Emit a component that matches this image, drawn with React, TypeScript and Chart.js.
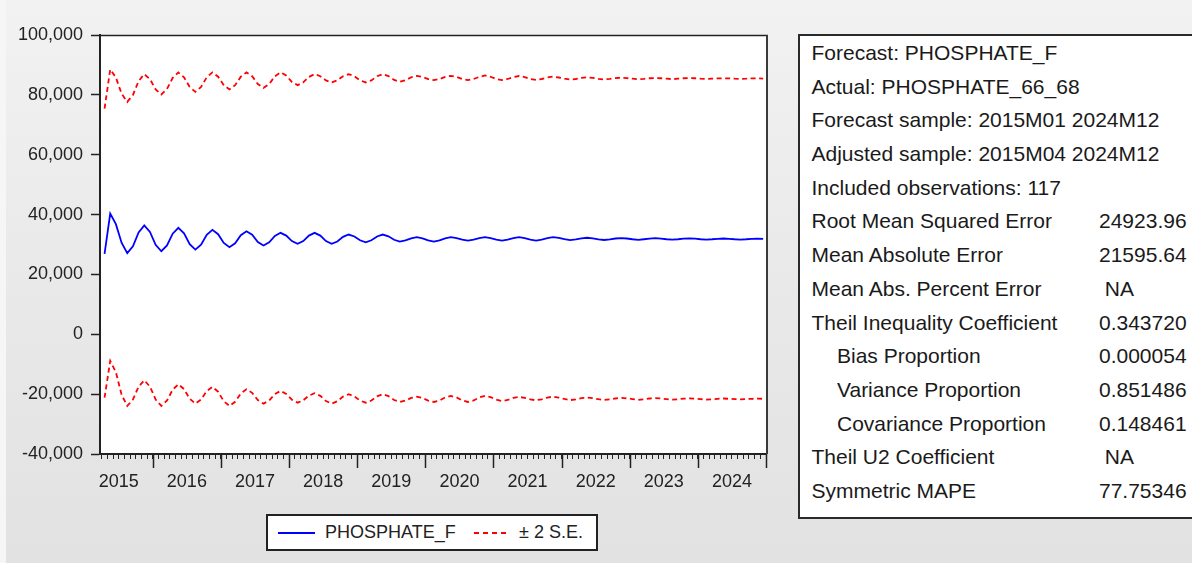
import React, { useEffect, useRef } from 'react';
import { Chart, registerables } from 'chart.js';

Chart.register(...registerables);

// ---------- data ----------
const START_YEAR = 2015;
const START_MONTH = 4; // adjusted sample starts 2015M04
const N_OBS = 117;

const PERIODS: string[] = [];
for (let i = 0; i < N_OBS; i++) {
  const m = START_MONTH - 1 + i;
  PERIODS.push(`${START_YEAR + Math.floor(m / 12)}M${String((m % 12) + 1).padStart(2, '0')}`);
}

const YEAR_LABELS = ['2015', '2016', '2017', '2018', '2019', '2020', '2021', '2022', '2023', '2024'];
const Y_TICKS = [-40000, -20000, 0, 20000, 40000, 60000, 80000, 100000];

const FORECAST = [
  26900, 40300, 36800, 30600, 27100, 29400, 34000, 36350, 34200, 29900, 27750, 29700,
  33600, 35580, 33760, 30130, 28310, 29960, 33260, 34910, 33450, 30540, 29080, 30420,
  33100, 34440, 33240, 30850, 29650, 30710, 32840, 33900, 32980, 31140, 30220, 31140,
  32980, 33900, 32980, 31140, 30220, 31000, 32550, 33330, 32690, 31400, 30750, 31400,
  32690, 33330, 32750, 31575, 30990, 31350, 32070, 32430, 32070, 31350, 30990, 31350,
  32070, 32430, 32150, 31600, 31320, 31600, 32150, 32430, 32150, 31600, 31320, 31600,
  32150, 32430, 32150, 31600, 31320, 31600, 32150, 32430, 32250, 31800, 31450, 31700,
  32050, 32250, 32050, 31700, 31500, 31700, 32000, 32150, 32000, 31750, 31550, 31750,
  31950, 32100, 31950, 31750, 31600, 31750, 31950, 32050, 31950, 31750, 31650, 31750,
  31900, 32000, 31900, 31750, 31650, 31750, 31900, 31950, 31900,
];

const UPPER = [
  75400, 88500, 85800, 80400, 77650, 79970, 84610, 86930, 85230, 81830, 80130, 81970,
  85660, 87500, 85880, 82630, 81000, 82630, 85880, 87500, 86080, 83230, 81810, 83230,
  86080, 87500, 86210, 83630, 82340, 83630, 86210, 87500, 86440, 84310, 83250, 84170,
  86010, 86930, 86235, 84845, 84150, 84845, 86235, 86930, 86235, 84845, 84150, 84845,
  86235, 86930, 86285, 84995, 84350, 84850, 85860, 86360, 86000, 85280, 84920, 85280,
  86000, 86360, 86000, 85280, 84920, 85280, 86000, 86500, 86050, 85300, 84950, 85300,
  85950, 86300, 85950, 85300, 85000, 85300, 85800, 86100, 85800, 85400, 85100, 85300,
  85650, 85850, 85650, 85350, 85150, 85350, 85600, 85750, 85600, 85400, 85200, 85350,
  85550, 85650, 85550, 85400, 85250, 85400, 85550, 85600, 85550, 85400, 85300, 85400,
  85500, 85550, 85500, 85400, 85350, 85400, 85500, 85500, 85450,
];

const LOWER = [
  -21200, -8900, -12660, -20190, -23950, -21800, -17490, -15340, -17490, -21800, -23950, -22130,
  -18500, -16680, -18300, -21550, -23180, -21780, -18990, -17590, -19180, -22360, -23950, -22550,
  -19760, -18360, -19570, -21980, -23180, -22120, -19990, -18930, -19910, -21870, -22850, -22060,
  -20490, -19700, -20570, -22310, -23180, -22390, -20820, -20030, -20735, -22145, -22850, -22145,
  -20735, -20030, -20675, -21965, -22610, -22170, -21280, -20840, -21280, -22170, -22610, -22110,
  -21100, -20600, -21100, -22110, -22610, -22110, -21100, -20600, -21020, -21860, -22280, -21950,
  -21280, -20940, -21220, -21760, -22040, -21740, -21140, -20840, -21150, -21600, -22000, -21750,
  -21350, -21150, -21350, -21700, -21950, -21750, -21450, -21250, -21400, -21650, -21900, -21700,
  -21450, -21350, -21450, -21650, -21850, -21700, -21500, -21400, -21500, -21650, -21800, -21700,
  -21550, -21450, -21550, -21650, -21750, -21650, -21550, -21500, -21550,
];

const STAT_LABELS = [
  'Forecast: PHOSPHATE_F',
  'Actual: PHOSPHATE_66_68',
  'Forecast sample: 2015M01 2024M12',
  'Adjusted sample: 2015M04 2024M12',
  'Included observations: 117',
  'Root Mean Squared Error',
  'Mean Absolute Error',
  'Mean Abs. Percent Error',
  'Theil Inequality Coefficient',
  'Bias Proportion',
  'Variance Proportion',
  'Covariance Proportion',
  'Theil U2 Coefficient',
  'Symmetric MAPE',
];
const STAT_VALUES = ['', '', '', '', '', '24923.96', '21595.64', ' NA', '0.343720', '0.000054', '0.851486', '0.148461', ' NA', '77.75346'];
const STAT_INDENT = [false, false, false, false, false, false, false, false, false, true, true, true, false, false];

const SERIES_NAME = 'PHOSPHATE_F';
const BAND_NAME = '± 2 S.E.';

// ---------- derived tick positions (month boundaries) ----------
const BOUNDARIES: number[] = [];
for (let i = 0; i <= N_OBS; i++) BOUNDARIES.push(i);
const YEAR_LABEL_AT: Record<number, string> = {};
const MAJOR_TICKS: number[] = [];
PERIODS.forEach((p, i) => {
  if (p.endsWith('M07')) {
    const y = p.slice(0, 4);
    if (YEAR_LABELS.includes(y)) YEAR_LABEL_AT[i] = y;
  }
  if (p.endsWith('M01')) MAJOR_TICKS.push(i);
});
MAJOR_TICKS.push(N_OBS);

const FONT = '"Liberation Sans", Arial, Helvetica, sans-serif';
const INK = '#222222';

export default function App() {
  const canvasRef = useRef<HTMLCanvasElement | null>(null);

  useEffect(() => {
    document.body.style.margin = '0';
    const canvas = canvasRef.current;
    if (!canvas) return;

    const framePlugin = {
      id: 'framePlugin',
      beforeDraw(chart: any) {
        const { ctx, chartArea } = chart;
        ctx.save();
        ctx.fillStyle = '#ffffff';
        ctx.fillRect(chartArea.left, chartArea.top, chartArea.right - chartArea.left, chartArea.bottom - chartArea.top);
        ctx.restore();
      },
      afterDraw(chart: any) {
        const { ctx, chartArea, scales } = chart;
        const { left, top, right, bottom } = chartArea;
        ctx.save();
        ctx.strokeStyle = INK;
        ctx.lineWidth = 1.5;
        ctx.beginPath();
        ctx.moveTo(left, top + 0.5);
        ctx.lineTo(right + 2, top + 0.5);
        ctx.stroke();
        ctx.strokeStyle = '#3a3a3a';
        ctx.lineWidth = 2;
        ctx.beginPath();
        ctx.moveTo(right + 1, top);
        ctx.lineTo(right + 1, bottom);
        ctx.stroke();
        ctx.strokeStyle = INK;
        ctx.lineWidth = 1.5;
        ctx.beginPath();
        MAJOR_TICKS.forEach((v) => {
          const px = Math.round(scales.x.getPixelForValue(v)) + 0.5;
          ctx.moveTo(px, bottom);
          ctx.lineTo(px, bottom + 14);
        });
        ctx.stroke();
        ctx.restore();
      },
    };

    const toXY = (arr: number[]) => arr.map((v, i) => ({ x: i + 0.5, y: v }));

    const chart = new Chart(canvas, {
      type: 'line',
      data: {
        datasets: [
          {
            label: BAND_NAME,
            data: toXY(UPPER),
            borderColor: '#ff0000',
            borderWidth: 1.8,
            borderDash: [5, 3.5],
            pointRadius: 0,
            tension: 0,
          },
          {
            label: BAND_NAME + ' lower',
            data: toXY(LOWER),
            borderColor: '#ff0000',
            borderWidth: 1.8,
            borderDash: [5, 3.5],
            pointRadius: 0,
            tension: 0,
          },
          {
            label: SERIES_NAME,
            data: toXY(FORECAST),
            borderColor: '#0000ff',
            borderWidth: 1.8,
            pointRadius: 0,
            tension: 0,
          },
        ],
      },
      options: {
        animation: false,
        responsive: true,
        maintainAspectRatio: false,
        devicePixelRatio: 1,
        layout: { padding: { left: 0, top: 35, right: 426, bottom: 0 } },
        plugins: {
          legend: { display: false },
          tooltip: { enabled: false },
          title: { display: false },
        },
        scales: {
          x: {
            type: 'linear',
            min: -0.3,
            max: N_OBS,
            afterFit(scale: any) {
              scale.height = 109;
            },
            afterBuildTicks(scale: any) {
              scale.ticks = BOUNDARIES.map((v) => ({ value: v }));
            },
            ticks: {
              autoSkip: false,
              maxRotation: 0,
              minRotation: 0,
              padding: 12,
              color: INK,
              font: { family: FONT, size: 18 },
              callback: (value: any) => YEAR_LABEL_AT[Number(value)] ?? '',
            },
            grid: {
              drawOnChartArea: false,
              drawTicks: true,
              tickLength: 5,
              tickColor: INK,
              tickWidth: 1,
            },
            border: { display: true, color: INK, width: 2 },
          },
          y: {
            type: 'linear',
            min: -40000,
            max: 100000,
            afterFit(scale: any) {
              scale.width = 100;
            },
            afterBuildTicks(scale: any) {
              scale.ticks = Y_TICKS.map((v) => ({ value: v }));
            },
            ticks: {
              padding: 8,
              color: INK,
              font: { family: FONT, size: 18 },
              callback: (value: any) => Number(value).toLocaleString('en-US'),
            },
            grid: {
              drawOnChartArea: false,
              drawTicks: true,
              tickLength: 9,
              tickColor: INK,
              tickWidth: 1.5,
            },
            border: { display: true, color: INK, width: 2 },
          },
        },
      },
      plugins: [framePlugin],
    });

    return () => chart.destroy();
  }, []);

  return (
    <div
      style={{
        position: 'relative',
        width: 1192,
        height: 563,
        overflow: 'hidden',
        background: 'linear-gradient(to bottom, #f2f2f2 0%, #e9e9e9 50%, #e2e2e2 100%)',
        fontFamily: FONT,
      }}
    >
      <div style={{ position: 'absolute', left: 0, top: 0, width: 6, height: 563, background: '#f6f6f6' }} />
      <div style={{ position: 'absolute', left: 0, top: 0, width: 1192, height: 563 }}>
        <canvas ref={canvasRef} />
      </div>

      {/* legend */}
      <div
        style={{
          position: 'absolute',
          left: 266,
          top: 514,
          width: 332,
          height: 37,
          boxSizing: 'border-box',
          border: '2px solid #222',
          background: '#ffffff',
        }}
      >
        <div style={{ position: 'absolute', left: 10, top: 15.5, width: 37, height: 2, background: '#0000ff' }} />
        <div
          style={{
            position: 'absolute',
            left: 57,
            top: 0,
            height: 33,
            lineHeight: '33px',
            fontSize: 18,
            color: INK,
            whiteSpace: 'pre',
          }}
        >
          {SERIES_NAME}
        </div>
        <div
          style={{
            position: 'absolute',
            left: 206,
            top: 15.5,
            width: 35,
            height: 2,
            background: 'repeating-linear-gradient(to right, #ff0000 0px, #ff0000 5px, transparent 5px, transparent 9px)',
          }}
        />
        <div
          style={{
            position: 'absolute',
            left: 251,
            top: 0,
            height: 33,
            lineHeight: '33px',
            fontSize: 18,
            color: INK,
            whiteSpace: 'pre',
          }}
        >
          {BAND_NAME}
        </div>
      </div>

      {/* statistics panel */}
      <div
        style={{
          position: 'absolute',
          left: 798,
          top: 34,
          width: 440,
          height: 485,
          boxSizing: 'border-box',
          border: '2px solid #2a2a2a',
          background: '#ffffff',
        }}
      />
      {STAT_LABELS.map((label, k) => (
        <React.Fragment key={label}>
          <div
            style={{
              position: 'absolute',
              left: STAT_INDENT[k] ? 837 : 811.5,
              top: 35.9 + 33.7 * k,
              height: 33.7,
              lineHeight: '33.7px',
              fontSize: 21,
              color: '#1a1a1a',
              whiteSpace: 'pre',
            }}
          >
            {label}
          </div>
          {STAT_VALUES[k] !== '' && (
            <div
              style={{
                position: 'absolute',
                left: 1099,
                top: 35.9 + 33.7 * k,
                height: 33.7,
                lineHeight: '33.7px',
                fontSize: 21,
                color: '#1a1a1a',
                whiteSpace: 'pre',
              }}
            >
              {STAT_VALUES[k]}
            </div>
          )}
        </React.Fragment>
      ))}
    </div>
  );
}
